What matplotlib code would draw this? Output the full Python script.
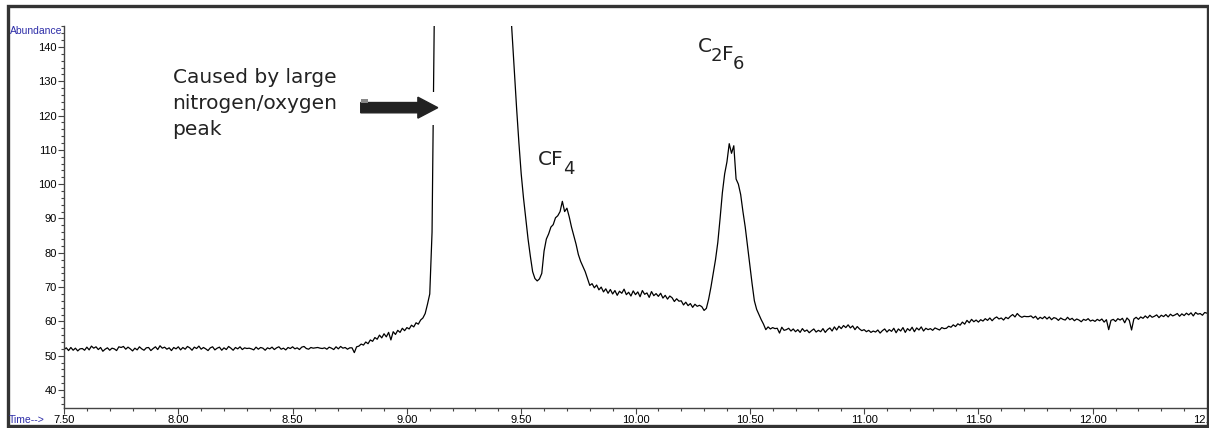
import numpy as np
import matplotlib
matplotlib.use('Agg')
from matplotlib import pyplot as plt
from matplotlib.patches import Rectangle
from matplotlib.ticker import MultipleLocator, FormatStrFormatter

# scan settings (min)
scan_start = 7.50
scan_step = 0.01

# abundance, one row = 0.1 min
abundance = [
    51.8, 52.3, 51.5, 52.4, 51.6, 52.2, 51.4, 52.0, 52.1, 51.6,   # 7.50
    52.5, 51.7, 52.8, 52.2, 52.6, 51.8, 52.4, 51.3, 51.9, 52.3,   # 7.60
    51.6, 52.2, 52.0, 51.5, 52.6, 52.4, 52.7, 51.9, 52.5, 52.0,   # 7.70
    51.4, 52.2, 51.7, 52.6, 52.0, 51.6, 52.3, 52.4, 51.5, 52.1,   # 7.80
    52.6, 51.8, 52.9, 52.2, 52.5, 51.9, 52.3, 51.5, 52.4, 52.0,   # 7.90
    52.6, 51.7, 52.4, 51.9, 52.7, 52.3, 51.6, 52.5, 52.1, 52.8,   # 8.00
    51.9, 52.4, 52.0, 51.5, 52.3, 52.6, 51.7, 52.2, 52.5, 51.6,   # 8.10
    52.3, 51.8, 52.7, 52.2, 51.6, 52.4, 52.0, 52.6, 51.8, 52.3,   # 8.20
    52.1, 52.2, 52.0, 51.7, 52.5, 51.9, 52.4, 52.2, 51.6, 52.3,   # 8.30
    52.0, 52.5, 51.8, 52.3, 52.6, 51.9, 52.2, 51.7, 52.4, 52.1,   # 8.40
    52.6, 52.0, 52.3, 51.8, 52.5, 52.7, 52.1, 51.9, 52.4, 52.2,   # 8.50
    52.3, 52.4, 52.2, 52.1, 52.3, 51.9, 52.5, 52.2, 51.8, 52.6,   # 8.60
    52.0, 52.7, 52.2, 52.4, 51.9, 52.3, 52.3, 50.9, 52.6, 52.8,   # 8.70
    53.4, 53.1, 54.0, 53.5, 54.6, 54.2, 55.3, 54.8, 56.0, 55.2,   # 8.80
    56.4, 55.5, 56.8, 54.6, 57.0, 56.2, 57.4, 56.8, 58.0, 57.3,   # 8.90
    58.2, 57.8, 58.9, 58.4, 59.6, 59.2, 60.4, 61.0, 62.3, 65.0,   # 9.00
    68.0, 86.0, 150.0, 600, 1200, 1800, 2200, 2400, 2500, 2500,   # 9.10
    2500, 2450, 2400, 2300, 2200, 2100, 1900, 1700, 1500, 1300,   # 9.20
    1100, 950, 800, 680, 560, 470, 400, 340, 300, 265,            # 9.30
    240, 215, 195, 178, 165, 155, 144, 133, 122, 112,             # 9.40
    103, 96, 90, 84, 79, 74.5, 72.5, 71.8, 72.4, 74.0,            # 9.50
    80.5, 84.0, 85.5, 87.5, 88.2, 90.2, 90.8, 92.0, 95.0, 92.0,   # 9.60
    93.0, 90.5, 87.5, 85.0, 82.5, 79.5, 77.5, 76.0, 74.5, 72.5,   # 9.70
    70.5, 71.0, 69.8, 70.6, 69.2, 70.0, 68.6, 69.5, 68.2, 69.3,   # 9.80
    68.0, 69.0, 67.6, 68.8, 68.2, 69.4, 67.8, 68.5, 67.4, 68.9,   # 9.90
    67.8, 68.6, 67.2, 69.0, 67.9, 68.3, 67.0, 68.7, 67.5, 68.1,   # 10.00
    67.3, 68.2, 66.8, 67.6, 66.5, 67.4, 66.9, 65.8, 66.6, 65.9,   # 10.10
    66.0, 64.8, 65.6, 64.6, 65.2, 64.1, 65.0, 64.4, 64.7, 64.3,   # 10.20
    63.2, 63.8, 66.5, 70.0, 74.0, 78.0, 83.0, 90.0, 97.5, 103.0,  # 10.30
    106.5, 111.8, 109.0, 111.2, 101.5, 100.0, 97.0, 92.0, 87.5, 82.0,  # 10.40
    76.5, 71.0, 66.0, 63.5, 62.0, 60.5, 59.2, 57.6, 58.4, 57.8,   # 10.50
    58.2, 57.9, 58.0, 56.6, 58.3, 57.4, 57.6, 58.0, 57.2, 57.8,   # 10.60
    57.0, 57.6, 56.8, 57.9, 57.1, 57.5, 56.7, 57.3, 57.8, 56.9,   # 10.70
    57.4, 57.0, 57.9, 56.8, 57.6, 58.1, 57.2, 58.4, 57.5, 58.6,   # 10.80
    57.9, 58.8, 58.2, 59.0, 58.1, 58.7, 57.6, 58.5, 57.8, 57.3,   # 10.90
    57.6, 57.0, 57.4, 56.8, 57.2, 56.9, 57.5, 56.6, 57.3, 57.8,   # 11.00
    56.9, 57.6, 57.1, 58.0, 56.7, 57.8, 57.2, 58.2, 56.8, 57.9,   # 11.10
    57.3, 58.3, 57.0, 58.1, 57.5, 58.4, 57.2, 58.0, 57.6, 57.9,   # 11.20
    57.4, 58.1, 57.8, 57.5, 58.2, 57.9, 58.0, 58.6, 58.3, 59.0,   # 11.30
    58.5, 59.3, 58.9, 59.8, 59.2, 60.3, 59.6, 60.6, 59.9, 60.4,   # 11.40
    59.8, 60.5, 60.1, 60.8, 60.3, 61.0, 60.2, 60.9, 61.3, 60.7,   # 11.50
    61.0, 60.4, 61.2, 60.8, 61.5, 62.0, 61.3, 62.3, 61.6, 61.2,   # 11.60
    61.5, 61.4, 61.4, 61.6, 61.0, 61.5, 60.6, 61.2, 60.8, 61.4,   # 11.70
    60.7, 61.3, 60.5, 61.1, 60.9, 60.3, 61.0, 60.6, 60.4, 61.2,   # 11.80
    60.5, 60.9, 60.2, 60.7, 60.4, 59.9, 60.6, 60.3, 60.8, 60.1,   # 11.90
    60.4, 60.0, 60.6, 60.2, 60.7, 59.8, 60.5, 57.6, 60.3, 60.6,   # 12.00
    60.0, 60.8, 60.4, 60.9, 59.6, 61.0, 60.3, 57.5, 60.7, 61.2,   # 12.10
    60.6, 61.3, 60.9, 61.6, 61.0, 61.8, 61.2, 61.5, 61.9, 61.1,   # 12.20
    61.8, 61.4, 62.0, 61.3, 62.1, 61.6, 61.9, 62.3, 61.5, 62.2,   # 12.30
    61.7, 62.4, 61.9, 62.5, 61.6, 62.6, 62.1, 62.3, 61.8, 62.6, 62.4,  # 12.40-12.50
]
time = scan_start + scan_step * np.arange(len(abundance))

note_lines = ['Caused by large', 'nitrogen/oxygen', 'peak']
peak_labels = [('CF', '4'), ('C', '2', 'F', '6')]

tick_font = ['Liberation Sans', 'DejaVu Sans']
blue = '#2d2da8'
ink = '#222222'

fig = plt.figure(figsize=(12.09, 4.28), dpi=100)
W, H = 1209.0, 428.0
ax = fig.add_axes([64 / W, (H - 407.7) / H, (1207 - 64) / W, (407.7 - 26) / H])

ax.plot(time, abundance, color='black', lw=0.9, zorder=2)

ax.set_xlim(7.5, 12.5)
ax.set_ylim(34.85, 146.1)

for s in ['top', 'right']:
    ax.spines[s].set_visible(False)
for s in ['left', 'bottom']:
    ax.spines[s].set_color('#444444')
    ax.spines[s].set_linewidth(1.0)

ax.xaxis.set_major_locator(MultipleLocator(0.5))
ax.xaxis.set_minor_locator(MultipleLocator(0.1))
ax.xaxis.set_major_formatter(FormatStrFormatter('%.2f'))
ax.yaxis.set_minor_locator(MultipleLocator(2))
ax.set_yticks(np.arange(40, 141, 10))

ax.tick_params(axis='both', which='major', direction='out', length=4, width=0.8,
               color='#444444', labelsize=8, pad=1)
ax.tick_params(axis='both', which='minor', direction='out', length=2, width=0.8,
               color='#444444')
for lab in ax.get_xticklabels() + ax.get_yticklabels():
    lab.set_family(tick_font)

fig.text(62 / W, 1 - 31 / H, 'Abundance', color=blue, fontsize=7.5, family=tick_font,
         ha='right', va='center')
fig.text(9 / W, 1 - 420 / H, 'Time-->', color=blue, fontsize=7.5, family=tick_font,
         ha='left', va='center')

# note text on the left of the big peak
note_y = [129.5, 121.9, 114.4]
for txt, yy in zip(note_lines, note_y):
    ax.text(7.975, yy, txt, fontsize=14.5, color=ink, ha='left', va='baseline',
            family='DejaVu Sans')

# white box that cuts the peak line behind the arrow
ax.add_patch(Rectangle((8.776, 117.35), 0.376, 9.6, facecolor='white',
                       edgecolor='none', zorder=3))
ax.arrow(8.798, 122.3, 0.337, 0, width=3.0, head_width=6.1, head_length=0.087,
         length_includes_head=True, color=ink, zorder=4)
ax.add_patch(Rectangle((8.798, 123.6), 0.03, 1.1, facecolor='#888888',
                       edgecolor='none', zorder=5))

# peak labels with big subscripts
def chem_label(x, y, parts):
    prev = ax.text(x, y, parts[0], fontsize=14.5, color=ink, ha='left',
                   va='baseline', family='DejaVu Sans')
    for i, p in enumerate(parts[1:]):
        sub = (i % 2 == 0)
        prev = ax.annotate(p, xy=(1, 0), xycoords=prev,
                           xytext=(-0.5, -4 if sub else 4),
                           textcoords='offset points',
                           fontsize=13 if sub else 14.5, color=ink,
                           ha='left', va='baseline', family='DejaVu Sans')
    return prev

chem_label(9.572, 105.7, peak_labels[0])
chem_label(10.271, 138.6, peak_labels[1])

# outer frame
fig.add_artist(Rectangle((7.5 / W, 1 - 426 / H), (1207.5 - 7.5) / W, (426 - 6) / H,
                         transform=fig.transFigure, fill=False, lw=2.4,
                         edgecolor='#333333', clip_on=False))

fig.savefig('out.png', dpi=100)
